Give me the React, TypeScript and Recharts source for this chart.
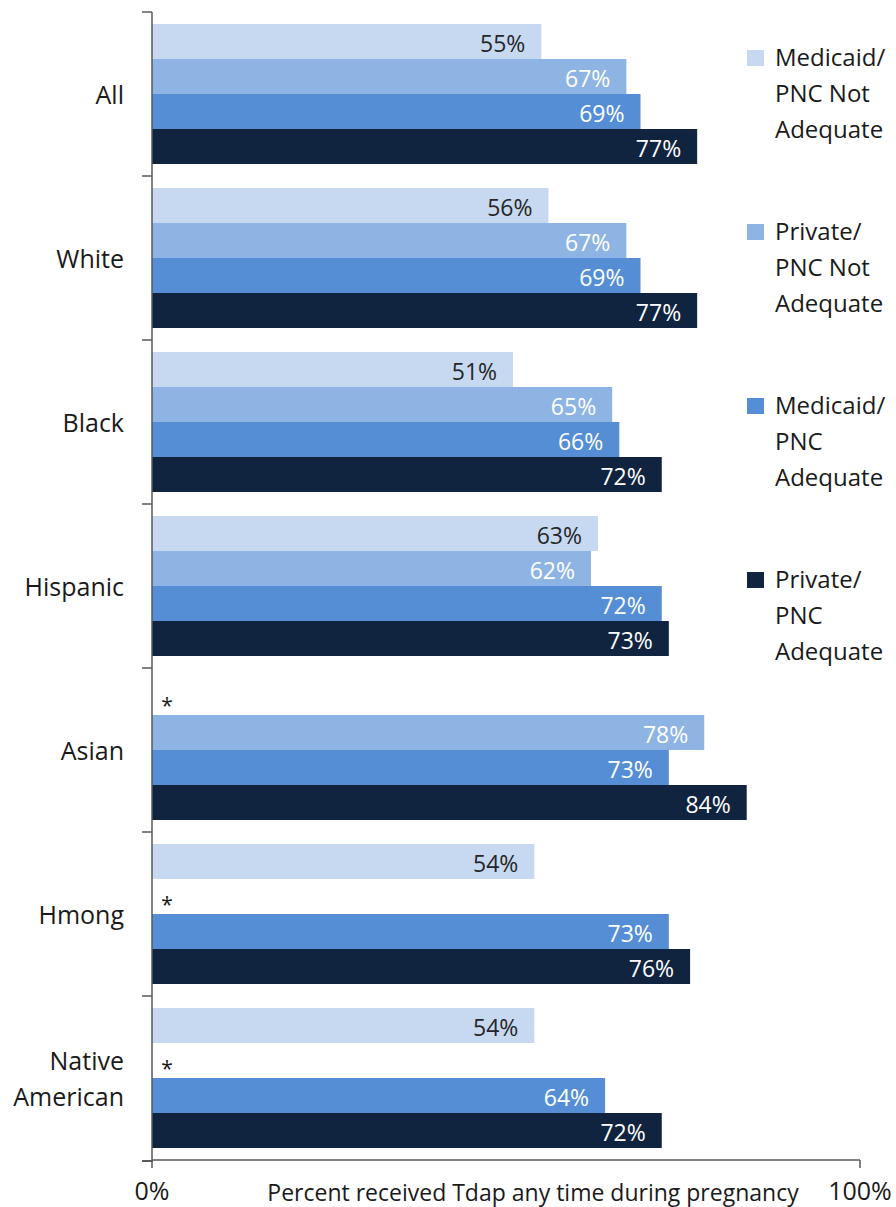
import { Bar, BarChart, Cell, LabelList, XAxis, YAxis } from "recharts"

const categories = ["All", "White", "Black", "Hispanic", "Asian", "Hmong", "Native American"]
// null = suppressed estimate, shown as "*" in the original
const medicaidNotAdequate = [55, 56, 51, 63, null, 54, 54]
const privateNotAdequate = [67, 67, 65, 62, 78, null, null]
const medicaidAdequate = [69, 69, 66, 72, 73, 73, 64]
const privateAdequate = [77, 77, 72, 73, 84, 76, 72]
const xTicks = [0, 100]

const series = [
  { key: "mna", name: ["Medicaid/", "PNC Not", "Adequate"], values: medicaidNotAdequate, color: "#C6D9F1", text: "#262626" },
  { key: "pna", name: ["Private/", "PNC Not", "Adequate"], values: privateNotAdequate, color: "#8EB4E3", text: "#ffffff" },
  { key: "ma", name: ["Medicaid/", "PNC", "Adequate"], values: medicaidAdequate, color: "#558ED5", text: "#ffffff" },
  { key: "pa", name: ["Private/", "PNC", "Adequate"], values: privateAdequate, color: "#10243F", text: "#ffffff" },
]

const W = 896
const H = 1207
const M = { top: 12, right: 36, bottom: 0, left: 0 }
const Y_W = 152
const X_H = 47
const BAND = (H - M.top - M.bottom - X_H) / categories.length

const SANS = "'Open Sans', 'DejaVu Sans', sans-serif"

const data = categories.map((c, i) => {
  const row: Record<string, string | number | null> = { name: c }
  series.forEach((s) => (row[s.key] = s.values[i]))
  return row
})

const CategoryTick = (props: any) => {
  const { x, y, payload } = props
  const words = String(payload.value).split(" ")
  const lh = 36
  const y0 = y - ((words.length - 1) * lh) / 2
  return (
    <g>
      <line x1={x - 10} x2={x} y1={y - BAND / 2} y2={y - BAND / 2} stroke="#595959" strokeWidth={1.5} />
      <text x={x - 28} y={y0} textAnchor="end" dominantBaseline="central" fontFamily={SANS} fontSize={25} fill="#1a1a1a">
        {words.map((w, i) => (
          <tspan key={i} x={x - 28} dy={i === 0 ? 0 : lh}>
            {w}
          </tspan>
        ))}
      </text>
    </g>
  )
}

const makeLabel = (textColor: string) => (props: any) => {
  const { x, y, width, height, value } = props
  if (value == null || value === 0) {
    return (
      <text x={Number(x) + 15} y={Number(y) + Number(height) / 2 + 7} textAnchor="middle" dominantBaseline="central" fontFamily={SANS} fontSize={21} fill="#1a1a1a">
        *
      </text>
    )
  }
  return (
    <text x={Number(x) + Number(width) - 16} y={Number(y) + Number(height) / 2 + 1} textAnchor="end" dominantBaseline="central" fontFamily={SANS} fontSize={23} fill={textColor}>
      {`${value}%`}
    </text>
  )
}

const AxisTitle = (props: any) => {
  const { viewBox } = props
  return (
    <text x={viewBox.x + viewBox.width / 2 + 27} y={1201} textAnchor="middle" fontFamily={SANS} fontSize={23} fill="#1a1a1a">
      Percent received Tdap any time during pregnancy
    </text>
  )
}

export default function App() {
  return (
    <div style={{ position: "absolute", left: 0, top: 0, width: W, height: H, background: "#fff" }}>
      <BarChart
        width={W}
        height={H}
        data={data}
        layout="vertical"
        margin={M}
        barCategoryGap={12}
        barGap={0}
      >
        <XAxis
          type="number"
          domain={[0, 100]}
          ticks={xTicks}
          height={X_H}
          tickSize={8}
          tickMargin={14}
          tickFormatter={(v) => `${v}%`}
          stroke="#595959"
          strokeWidth={1.5}
          tick={{ fontFamily: SANS, fontSize: 25, fill: "#1a1a1a" }}
          label={<AxisTitle />}
        />
        <YAxis
          type="category"
          dataKey="name"
          width={Y_W}
          tickLine={false}
          tickSize={0}
          tickMargin={0}
          stroke="#595959"
          strokeWidth={1.5}
          tick={<CategoryTick />}
          interval={0}
        />
        {series.map((s) => (
          <Bar
            key={s.key}
            dataKey={(row: any) => row[s.key] ?? 0}
            name={s.name.join(" ")}
            fill={s.color}
            minPointSize={1}
            isAnimationActive={false}
          >
            {s.values.map((v, i) => (
              <Cell key={i} fill={v == null ? "transparent" : s.color} />
            ))}
            <LabelList dataKey={(row: any) => row[s.key] ?? 0} content={makeLabel(s.text)} />
          </Bar>
        ))}
      </BarChart>
      {/* x axis line runs a little past the y axis on the left, like the original */}
      <div style={{ position: "absolute", left: 142, top: 1160, width: 11, height: 1.5, background: "#595959" }} />
      <div style={{ position: "absolute", left: 747, top: 0 }}>
        {series.map((s, i) => (
          <div key={s.key} style={{ position: "absolute", top: 39 + i * 174, left: 0, width: 150 }}>
            <div style={{ position: "absolute", left: 0, top: 11, width: 17, height: 16, background: s.color }} />
            <div style={{ position: "absolute", left: 28, top: 0, fontFamily: SANS, fontSize: 24, lineHeight: "36px", color: "#1a1a1a", whiteSpace: "nowrap" }}>
              {s.name.map((n, j) => (
                <div key={j}>{n}</div>
              ))}
            </div>
          </div>
        ))}
      </div>
    </div>
  )
}
